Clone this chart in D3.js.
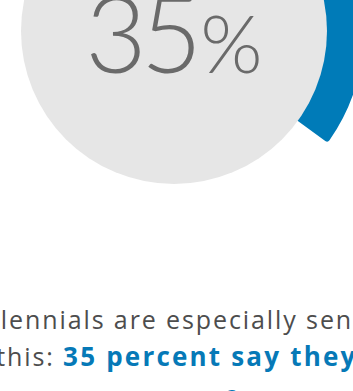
<!DOCTYPE html>
<html>
    <head>
        <meta charset="utf-8">
        <title>35 percent</title>
        <script src="https://d3js.org/d3.v7.min.js"></script>
        <style>
         body { margin: 0; background: #fff; }
         svg { display: block; }
        </style>
    </head>

    <body>
        <div id="chart"></div>

        <script>
         // share shown in the ring, and the rest of the circle
         var shareLabels = ["they say", "the rest"];
         var shareValues = [35, 65];
         var bigNumber = "35";
         var bigUnit = "%";

         // the caption under the ring, one entry per line, split into runs
         var captionLines = [
             [{text: "Millennials are especially sensitive", strong: false}],
             [{text: "to this: ", strong: false},
              {text: "35 percent say they would", strong: true}],
             [{text: "are more aware of", strong: true}]
         ];

         var width = 353, height = 391;
         var cx = 174, cy = 31;

         var svg = d3.select("#chart").append("svg")
             .attr("width", width)
             .attr("height", height);

         var pie = d3.pie().sort(null).value(function(d) { return d; });
         var slices = pie(shareValues);

         // the blue ring sits behind the grey disc
         var ring = d3.arc()
             .innerRadius(140)
             .outerRadius(190)
             .cornerRadius(3);

         var g = svg.append("g").attr("transform", "translate(" + cx + "," + cy + ")");

         g.append("path")
             .datum(slices[0])
             .attr("d", ring)
             .attr("fill", "#007bb8");

         g.append("circle")
             .attr("r", 153)
             .attr("fill", "#e6e6e6");

         var num = g.append("text")
             .attr("text-anchor", "middle")
             .attr("x", 0)
             .attr("y", 42)
             .style("font-family", "Lato, 'Open Sans', sans-serif")
             .style("font-weight", 300)
             .style("fill", "#6a6a6a");

         num.append("tspan")
             .style("font-size", "106px")
             .style("letter-spacing", "-6px")
             .text(bigNumber);
         num.append("tspan")
             .attr("dx", 4)
             .style("font-size", "80px")
             .text(bigUnit);

         // caption
         var lineY = d3.scaleLinear().domain([0, 1]).range([329, 366]);

         var cap = svg.append("g")
             .style("font-family", "'Open Sans', sans-serif");

         cap.selectAll("text")
             .data(captionLines)
             .join("text")
             .attr("x", -40)
             .attr("y", function(d, i) { return i < 2 ? lineY(i) : lineY(i) + 8; })
             .selectAll("tspan")
             .data(function(d) { return d; })
             .join("tspan")
             .style("font-size", function(d) { return d.strong ? "26px" : "25px"; })
             .style("font-weight", function(d) { return d.strong ? 700 : 400; })
             .style("letter-spacing", function(d) { return d.strong ? "2.2px" : "1.9px"; })
             .style("fill", function(d) { return d.strong ? "#0679b7" : "#4d4d4d"; })
             .text(function(d) { return d.text; });
        </script>
    </body>

</html>
